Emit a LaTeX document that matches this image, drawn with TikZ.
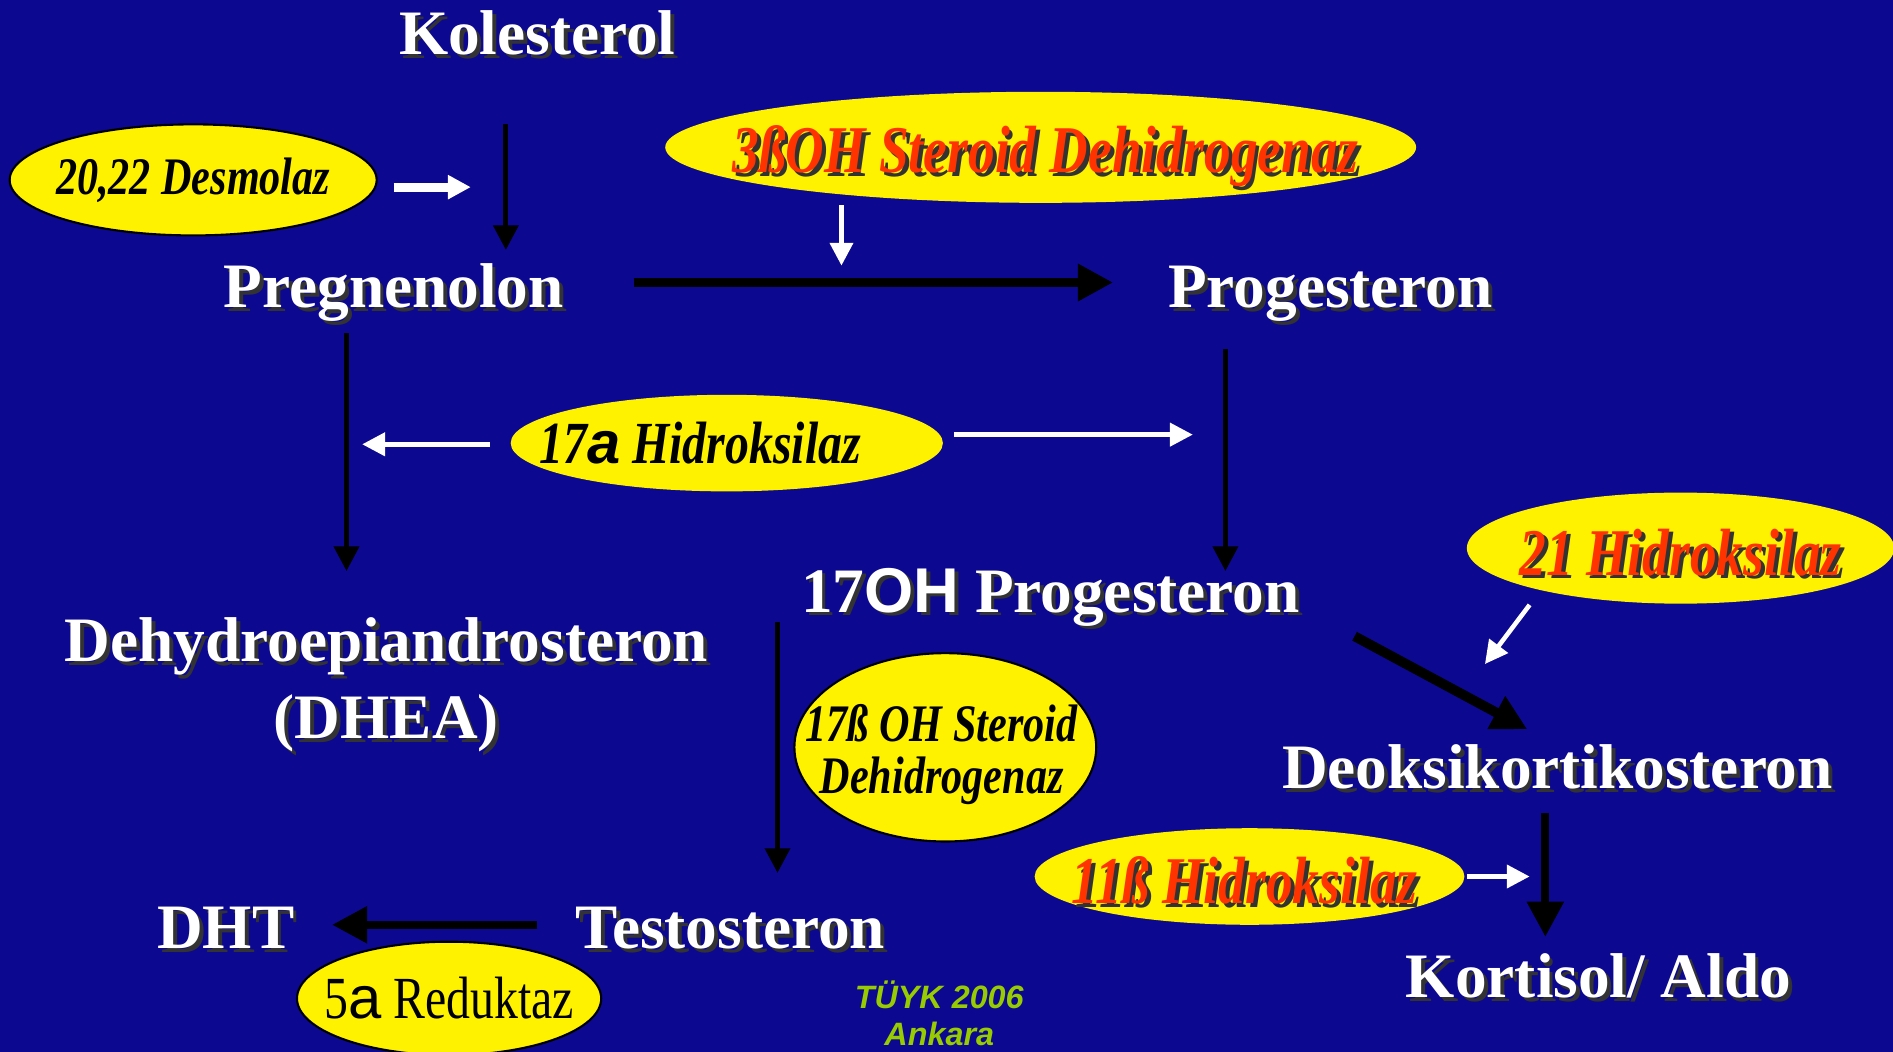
\documentclass[tikz,border=0pt]{standalone}
\usepackage{fontspec}
\setmainfont{Liberation Serif}
\newfontfamily\enzfont{Liberation Serif}[FakeStretch=0.8]
\newfontfamily\arialfont{Liberation Sans}
\usetikzlibrary{shapes.geometric,arrows.meta}
\definecolor{slideblue}{RGB}{12,8,144}
\definecolor{enzred}{RGB}{255,51,0}
\definecolor{footgreen}{RGB}{153,204,0}
\newlength\unitpx
\setlength\unitpx{0.012073cm}
\newcommand\shd[1]{\rlap{\kern1.1pt\raisebox{-1.1pt}{\color{black!80}#1}}#1}
\newcommand\enzsize[1]{\fontsize{#1}{#1}\selectfont}

\tikzset{
  metab/.style={text=white, anchor=base, inner sep=0pt,
    font=\fontsize{18}{22}\selectfont\bfseries},
  enz/.style={ellipse, fill=yellow, inner sep=0pt, outer sep=0pt},
  enzrim/.style={enz, draw=black, line width=0.6pt},
  enztext/.style={inner sep=0pt, font=\enzfont\enzsize{#1}\bfseries\itshape},
  flow/.style={line width=1.4pt, -{Triangle[length=7pt,width=7pt]}},
  bigflow/.style={line width=2.8pt, -{Triangle[length=10pt,width=10pt]}},
  hint/.style={white, line width=1.3pt, -{Triangle[length=6.5pt,width=6.5pt]}},
}

\begin{document}
\begin{tikzpicture}[x=\unitpx, y=-\unitpx]
\fill[slideblue] (0,0) rectangle (1568,871);
\useasboundingbox (0,0) rectangle (1568,871);

% metabolites
\node[metab] (kol) at (445,45) {\shd{Kolesterol}};
\node[metab] (preg) at (326,255) {\shd{Pregnenolon}};
\node[metab] (prog) at (1102,255) {\shd{Progesteron}};
\node[metab, align=center] (dhea) at (320,612) {\shd{Dehydroepiandrosteron}\\\shd{(DHEA)}};
\node[metab] (ohprog) at (870,507) {\shd{17{\arialfont OH} Progesteron}};
\node[metab] (doc) at (1290,653) {\shd{Deoksikortikosteron}};
\node[metab] (testo) at (605,786) {\shd{Testosteron}};
\node[metab] (dht) at (187,786) {\shd{DHT}};
\node[metab] (kort) at (1324,826) {\shd{Kortisol/ Aldo}};

% enzymes
\node[enzrim, minimum width=304\unitpx, minimum height=92\unitpx,
  label={[enztext=15]center:{20,22 Desmolaz}}] (desm) at (160,149) {};
\node[enz, minimum width=622\unitpx, minimum height=92\unitpx,
  label={[enztext=19, text=enzred, yshift=-9\unitpx, xshift=4\unitpx]center:{\shd{3ßOH Steroid Dehidrogenaz}}}] (hsd3) at (862,122) {};
\node[enz, minimum width=358\unitpx, minimum height=80\unitpx,
  label={[enztext=17, xshift=-22\unitpx]center:{17{\arialfont a} Hidroksilaz}}] (hyd17) at (602,367) {};
\node[enz, minimum width=354\unitpx, minimum height=92\unitpx,
  label={[enztext=19, text=enzred, yshift=-5\unitpx]center:{\shd{21 Hidroksilaz}}}] (hyd21) at (1392,454) {};
\node[enzrim, minimum width=250\unitpx, minimum height=156\unitpx,
  label={[enztext=15, align=center, xshift=-3\unitpx, yshift=-6\unitpx]center:{17ß OH Steroid\\Dehidrogenaz}}] (hsd17) at (783,619) {};
\node[enz, minimum width=356\unitpx, minimum height=80\unitpx,
  label={[enztext=19, text=enzred, xshift=-4\unitpx, yshift=-5\unitpx]center:{\shd{11ß Hidroksilaz}}}] (hyd11) at (1035,726) {};
\node[enzrim, minimum width=252\unitpx, minimum height=94\unitpx,
  label={[inner sep=0pt, font=\enzfont\enzsize{17}]center:{5{\arialfont a} Reduktaz}}] (red5) at (372,827) {};

\node[anchor=base, align=center, text=footgreen, inner sep=0pt,
  font=\arialfont\fontsize{9.2}{10.6}\selectfont\bfseries\itshape] (credit) at (778,866) {TÜYK 2006\\Ankara};

% black pathway arrows
\coordinate (k1) at (419,103); \coordinate (k2) at (419,207);
\coordinate (p1) at (525,234); \coordinate (p2) at (922,234);
\coordinate (d1) at (287,276); \coordinate (d2) at (287,473);
\coordinate (o1) at (1015,289); \coordinate (o2) at (1015,473);
\coordinate (c1) at (1122,527); \coordinate (c2) at (1265,604);
\coordinate (t1) at (644,515); \coordinate (t2) at (644,723);
\coordinate (r1) at (1280,673); \coordinate (r2) at (1280,776);
\coordinate (h1) at (445,766); \coordinate (h2) at (275,766);
\draw[flow] (k1) -- (k2);
\draw[bigflow] (p1) -- (p2);
\draw[flow] (d1) -- (d2);
\draw[flow] (o1) -- (o2);
\draw[bigflow] (c1) -- (c2);
\draw[flow] (t1) -- (t2);
\draw[bigflow, line width=2.3pt] (r1) -- (r2);
\draw[bigflow, line width=2.3pt] (h1) -- (h2);

% white enzyme arrows
\coordinate (w1) at (326,155); \coordinate (w2) at (390,155);
\coordinate (w3) at (697,170); \coordinate (w4) at (697,220);
\coordinate (w5) at (406,368); \coordinate (w6) at (300,368);
\coordinate (w7) at (790,360); \coordinate (w8) at (988,360);
\coordinate (w9) at (1267,501); \coordinate (w10) at (1230,550);
\coordinate (w11) at (1215,726); \coordinate (w12) at (1267,726);
\draw[hint, line width=2.6pt] (w1) -- (w2);
\draw[hint] (w3) -- (w4);
\draw[hint] (w5) -- (w6);
\draw[hint] (w7) -- (w8);
\draw[hint] (w9) -- (w10);
\draw[hint] (w11) -- (w12);
\end{tikzpicture}
\end{document}
